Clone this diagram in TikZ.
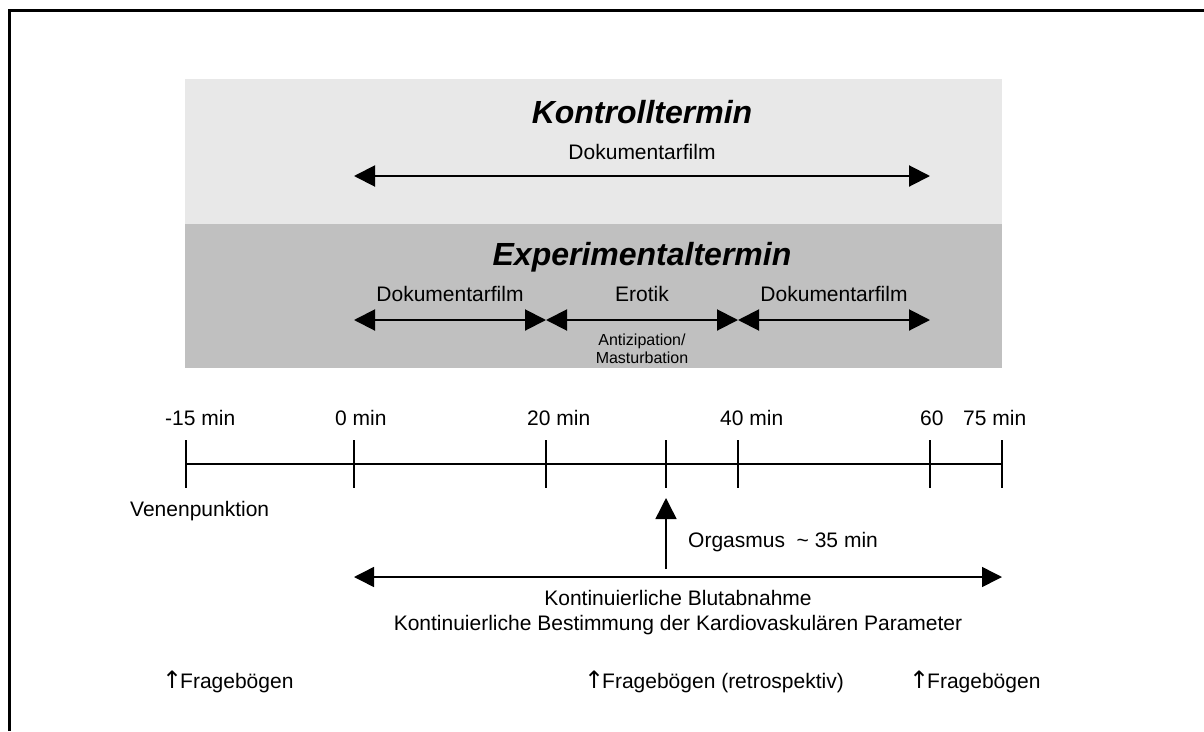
\documentclass[tikz,border=0pt]{standalone}
\usepackage{fontspec}
\setmainfont{Liberation Sans}
\newfontfamily\arrowfont{DejaVu Sans}
\usepackage{tikz}
\usetikzlibrary{arrows.meta,positioning}
\definecolor{kontrollgray}{gray}{0.91}
\definecolor{experigray}{gray}{0.753}
\newcommand{\uparr}{\makebox[15pt][l]{\arrowfont\fontsize{24}{25}\selectfont ↑}\hspace{3pt}}
\tikzset{
  tl frame/.style={line width=3pt},
  tl tick/.style={line width=1.5pt},
  tl phase/.style={
    {Triangle[length=21pt,width=21pt]}-{Triangle[length=21pt,width=21pt]},
    line width=2pt,
  },
  tl span/.style={
    {Triangle[length=20pt,width=20pt]}-{Triangle[length=20pt,width=20pt]},
    line width=1.5pt,
  },
  tl marker/.style={-{Triangle[length=21pt,width=21pt]}, line width=1.5pt},
  tl label/.style={font=\fontsize{21}{25}\selectfont, inner sep=0pt},
  tl title/.style={font=\fontsize{32}{38}\selectfont\bfseries\itshape, inner sep=0pt},
  tl small/.style={font=\fontsize{16}{18}\selectfont, align=center, inner sep=0pt},
}

\begin{document}
\begin{tikzpicture}[x=1pt,y=-1pt]
  \useasboundingbox (0,0) rectangle (1204,731);
  \draw[tl frame] (9.5,731) -- (9.5,10.5) -- (1204,10.5);

  \fill[kontrollgray] (185,79) rectangle (1002,224);
  \fill[experigray] (185,224) rectangle (1002,368);

  \node[tl title,anchor=base] (kontroll) at (642,123) {Kontrolltermin};
  \node[tl title,anchor=base] (experiment) at (642,265) {Experimentaltermin};

  \coordinate (k0) at (354,176);
  \coordinate (k60) at (930,176);
  \draw[tl phase] (k0) -- node[tl label,midway,above=15pt] (kdoc) {Dokumentarfilm} (k60);

  \coordinate (e0) at (354,320);
  \coordinate (e20) at (546,320);
  \coordinate (e40) at (738,320);
  \coordinate (e60) at (930,320);
  \draw[tl phase] (e0) -- node[tl label,midway,above=17pt] (edoc1) {Dokumentarfilm} (e20);
  \draw[tl phase] (e20) -- node[tl label,midway,above=17pt] (erotik) {Erotik} (e40);
  \draw[tl phase] (e40) -- node[tl label,midway,above=17pt] (edoc2) {Dokumentarfilm} (e60);
  \node[tl small,below=14pt of erotik.center|-e20] (antiz) {Antizipation/\\Masturbation};

  \foreach \name/\x in {m15/186,t0/354,t20/546,t30/666,t40/738,t60/930,t75/1002} {
    \coordinate (\name) at (\x,464);
    \draw[tl tick] (\x,440) -- (\x,488);
  }
  \draw[tl tick] (m15) -- (t75);

  \node[tl label,anchor=base west] (lm15) at (165,425) {-15 min};
  \node[tl label,anchor=base west] (l0) at (335,425) {0 min};
  \node[tl label,anchor=base west] (l20) at (527,425) {20 min};
  \node[tl label,anchor=base west] (l40) at (720,425) {40 min};
  \node[tl label,anchor=base west] (l60) at (920,425) {60};
  \node[tl label,anchor=base west] (l75) at (963,425) {75 min};
  \node[tl label,anchor=base west] (vene) at (130,516) {Venenpunktion};

  \coordinate (orgfoot) at (666,569);
  \coordinate (orgtip) at (666,498);
  \draw[tl marker] (orgfoot) -- (orgtip);
  \node[tl label,anchor=base west] (orgasmus) at (688,547) {Orgasmus\ \ \textasciitilde\ 35 min};

  \coordinate (b0) at (354,577);
  \coordinate (b75) at (1002,577);
  \draw[tl span] (b0) -- (b75);
  \node[tl label,align=center,anchor=north] (blut) at (678,590)
    {Kontinuierliche Blutabnahme\\Kontinuierliche Bestimmung der Kardiovaskulären Parameter};

  \node[tl label,anchor=base west] (frage1) at (162,688) {\uparr Fragebögen};
  \node[tl label,anchor=base west] (frage2) at (584,688) {\uparr Fragebögen (retrospektiv)};
  \node[tl label,anchor=base west] (frage3) at (909,688) {\uparr Fragebögen};
\end{tikzpicture}
\end{document}
